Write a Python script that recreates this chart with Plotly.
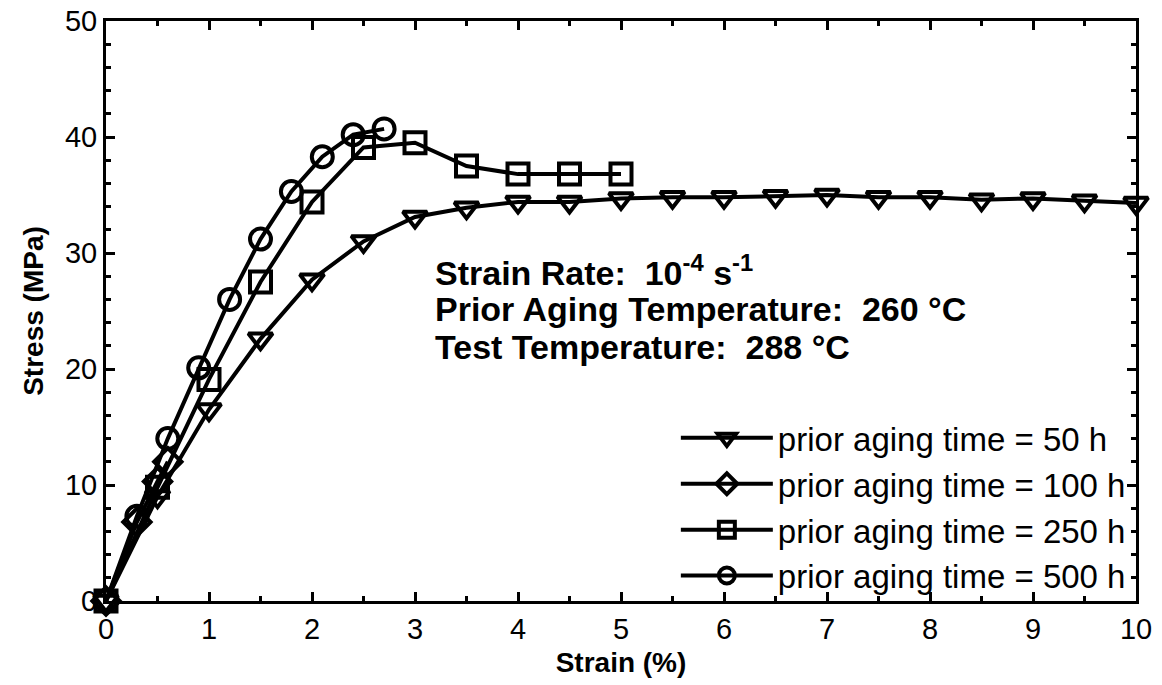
import plotly.graph_objects as go

# ---- data ----
strain_50h = [0, 0.5, 1.0, 1.5, 2.0, 2.5, 3.0, 3.5, 4.0, 4.5, 5.0, 5.5, 6.0, 6.5, 7.0, 7.5, 8.0, 8.5, 9.0, 9.5, 10.0]
stress_50h = [0, 9.0, 16.5, 22.6, 27.7, 31.0, 33.1, 33.9, 34.4, 34.4, 34.7, 34.8, 34.8, 34.9, 35.0, 34.8, 34.8, 34.6, 34.7, 34.5, 34.3]

strain_100h = [0, 0.3, 0.5, 0.6]
stress_100h = [0, 6.8, 10.3, 12.0]

strain_250h = [0, 0.5, 1.0, 1.5, 2.0, 2.5, 3.0, 3.5, 4.0, 4.5, 5.0]
stress_250h = [0, 9.8, 19.1, 27.5, 34.4, 39.1, 39.5, 37.5, 36.8, 36.8, 36.8]

strain_500h = [0, 0.3, 0.6, 0.9, 1.2, 1.5, 1.8, 2.1, 2.4, 2.7]
stress_500h = [0, 7.3, 14.0, 20.1, 26.0, 31.2, 35.3, 38.3, 40.2, 40.7]

series_names = ["prior aging time = 50 h", "prior aging time = 100 h",
                "prior aging time = 250 h", "prior aging time = 500 h"]
x_ticks = [0, 1, 2, 3, 4, 5, 6, 7, 8, 9, 10]
y_ticks = [0, 10, 20, 30, 40, 50]

annotation_lines = ["Strain Rate:&nbsp; 10<sup>-4</sup> s<sup>-1</sup>",
                    "Prior Aging Temperature:&nbsp; 260 °C",
                    "Test Temperature:&nbsp; 288 °C"]
annotation_y = [28.5, 25.2, 21.9]

FONT = "Liberation Sans, Arial"

# ---- figure ----
fig = go.Figure()
symbols = ["triangle-down-open", "diamond-open", "square-open", "circle-open"]
xs = [strain_50h, strain_100h, strain_250h, strain_500h]
ys = [stress_50h, stress_100h, stress_250h, stress_500h]
for name, sym, x, y in zip(series_names, symbols, xs, ys):
    fig.add_trace(go.Scatter(
        x=x, y=y, name=name, mode="lines+markers",
        line=dict(color="black", width=4),
        marker=dict(symbol=sym, size=21, color="black", line=dict(width=4, color="black")),
        cliponaxis=False,
    ))

for txt, yy in zip(annotation_lines, annotation_y):
    fig.add_annotation(x=3.17, y=yy, xref="x", yref="y", text=txt, showarrow=False,
                       xanchor="left", yanchor="middle",
                       font=dict(family=FONT, size=34, color="black", weight="bold"))

axis_common = dict(showline=True, linecolor="black", linewidth=3, mirror="ticks",
                   ticks="inside", ticklen=9, tickwidth=3, tickcolor="black",
                   showgrid=False, zeroline=False, automargin=False,
                   tickfont=dict(family=FONT, size=29, color="black"))

fig.update_xaxes(range=[0, 10], tickvals=x_ticks,
                 minor=dict(dtick=0.5, ticks="inside", ticklen=5, tickwidth=3, tickcolor="black", showgrid=False),
                 title=dict(text="<b>Strain (%)</b>", standoff=9,
                            font=dict(family=FONT, size=28, color="black")),
                 **axis_common)
fig.update_yaxes(range=[0, 50], tickvals=y_ticks,
                 minor=dict(dtick=2, ticks="inside", ticklen=5, tickwidth=3, tickcolor="black", showgrid=False),
                 title=dict(text="<b>Stress (MPa)</b>", standoff=14,
                            font=dict(family=FONT, size=28, color="black")),
                 **axis_common)

fig.update_layout(
    width=1162, height=685,
    margin=dict(l=106, r=26, t=21, b=84),
    plot_bgcolor="white", paper_bgcolor="white",
    legend=dict(x=0.995, y=-0.005, xanchor="right", yanchor="bottom",
                bgcolor="rgba(0,0,0,0)", borderwidth=0,
                font=dict(family=FONT, size=33, color="black"),
                itemwidth=92, tracegroupgap=0),
    showlegend=True,
)

fig.write_html("out.html", config={"displayModeBar": False},
               post_script="document.body.style.margin='0';document.body.style.overflow='hidden';")
